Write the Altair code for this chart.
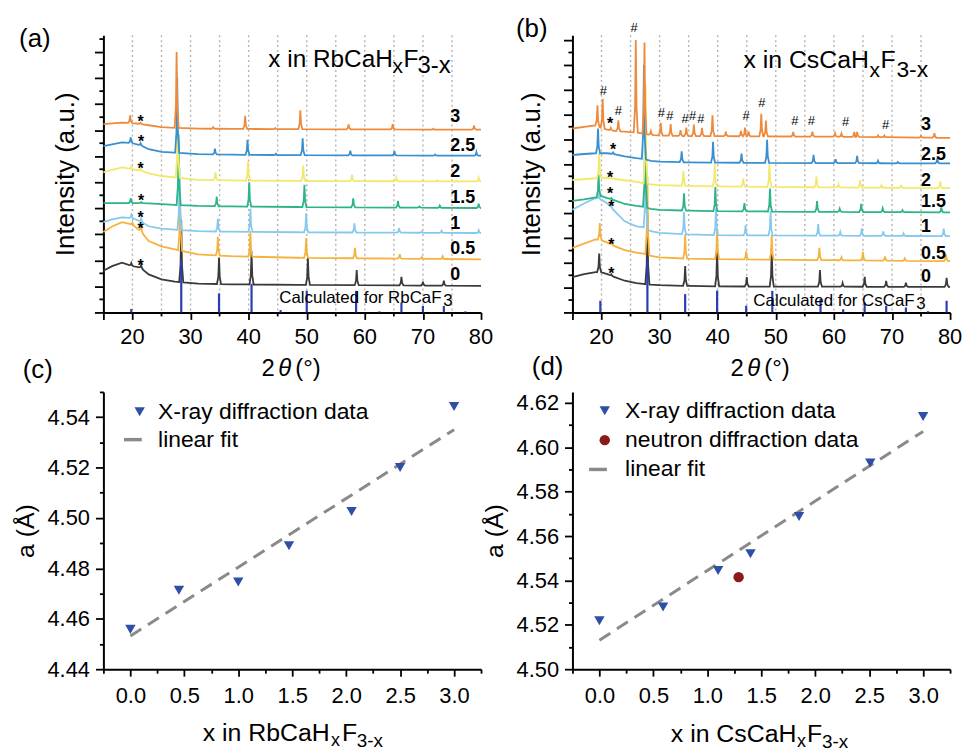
import altair as alt
import numpy as np
import pandas as pd

FONT = "Liberation Sans"
W, H = 380, 279

SERIES = ["0", "0.5", "1", "1.5", "2", "2.5", "3"]
COLORS = {"0": "#3a3a3a", "0.5": "#f5b23c", "1": "#86c9ee", "1.5": "#2bb38b",
          "2": "#f2e86a", "2.5": "#3a8fce", "3": "#ee8a3c"}
STICK_COLOR = "#2b3db0"
MARK_BLUE = "#2f4ea6"
NEUTRON_RED = "#8b1a1a"
FIT_GRAY = "#8a8a8a"

# ---------------- (a) x in RbCaHxF3-x : background knots (2theta, intensity) ----------------
A_BG_X = [15, 16.5, 18.2, 20, 21.4, 22.8, 25, 27.3, 31.3, 37, 48.4, 80]
A_BG_Y = {
    "0":   [1.60, 1.78, 1.91, 1.78, 1.72, 1.46, 1.27, 1.18, 1.11, 1.08, 1.06, 1.02],
    "0.5": [3.09, 3.30, 3.47, 3.37, 3.12, 2.74, 2.54, 2.42, 2.23, 2.16, 2.10, 2.04],
    "1":   [3.47, 3.57, 3.65, 3.62, 3.50, 3.31, 3.22, 3.18, 3.12, 3.10, 3.08, 3.05],
    "1.5": [4.20, 4.20, 4.20, 4.20, 4.20, 4.19, 4.16, 4.13, 4.09, 4.07, 4.05, 4.01],
    "2":   [5.38, 5.48, 5.57, 5.50, 5.45, 5.34, 5.24, 5.19, 5.09, 5.07, 5.05, 5.03],
    "2.5": [6.39, 6.46, 6.53, 6.50, 6.42, 6.27, 6.17, 6.14, 6.08, 6.06, 6.04, 6.02],
    "3":   [7.23, 7.26, 7.29, 7.27, 7.24, 7.19, 7.12, 7.09, 7.06, 7.05, 7.04, 7.02],
}
# peak positions (2theta) and heights above background
A_PK = {
    "0":   ([19.8, 21.5, 28.4, 34.9, 40.5, 50.2, 58.6, 66.3, 70.0, 73.6],
            [0.10, 0.12, 2.40, 1.02, 1.28, 1.05, 0.58, 0.33, 0.15, 0.19]),
    "0.5": ([20.0, 21.5, 28.2, 34.7, 40.3, 49.9, 58.3, 66.0, 69.8, 73.4],
            [0.08, 0.25, 2.20, 0.72, 0.98, 0.76, 0.40, 0.17, 0.07, 0.10]),
    "1":   ([19.8, 21.5, 28.1, 34.7, 40.3, 49.9, 58.2, 65.9, 69.8, 73.2, 79.6],
            [0.12, 0.12, 2.40, 0.50, 0.90, 0.73, 0.35, 0.17, 0.05, 0.08, 0.10]),
    "1.5": ([19.7, 21.5, 27.95, 34.5, 40.1, 49.6, 58.0, 65.7, 69.4, 72.9, 79.6],
            [0.19, 0.04, 2.70, 0.37, 0.93, 0.85, 0.34, 0.26, 0.05, 0.08, 0.17]),
    "2":   ([19.8, 21.4, 27.8, 34.3, 39.9, 49.4, 57.8, 65.4, 72.5, 79.6],
            [0.10, 0.08, 2.60, 0.30, 0.73, 0.60, 0.25, 0.14, 0.04, 0.14]),
    "2.5": ([19.7, 21.4, 27.7, 34.2, 39.8, 44.7, 49.3, 57.5, 65.1, 72.1, 79.2],
            [0.22, 0.08, 2.90, 0.22, 0.58, 0.05, 0.65, 0.18, 0.16, 0.04, 0.14]),
    "3":   ([19.6, 21.4, 27.6, 33.9, 39.4, 44.6, 48.9, 57.2, 64.8, 71.8, 78.8],
            [0.30, 0.05, 2.92, 0.06, 0.50, 0.04, 0.72, 0.19, 0.20, 0.03, 0.16]),
}
A_STICK_POS = [19.8, 28.4, 34.9, 40.5, 45.5, 50.0, 58.5, 62.5, 66.3, 70.0, 73.6, 77.3]
A_STICK_H = [0.13, 2.0, 0.73, 1.1, 0.09, 0.83, 0.83, 0.04, 0.38, 0.25, 0.25, 0.04]
A_STAR_X = [21.4, 21.4, 21.4, 21.5, 21.4, 21.5, 21.4]
A_STAR_Y = [1.93, 3.35, 3.79, 4.45, 5.66, 6.68, 7.48]
A_LABEL_X = [74.7] * 7
A_LABEL_Y = [1.45, 2.45, 3.40, 4.40, 5.40, 6.40, 7.50]

# ---------------- (b) x in CsCaHxF3-x ----------------
B_BG_X = [15, 17, 19, 20, 21, 22, 24, 26, 27.2, 28.5, 30, 35, 40, 60, 80]
B_BG_Y = {
    "0":   [1.43, 1.55, 1.63, 1.62, 1.55, 1.45, 1.28, 1.18, 1.15, 1.12, 1.10, 1.07, 1.05, 1.04, 1.03],
    "0.5": [2.61, 2.78, 2.95, 2.92, 2.82, 2.70, 2.52, 2.42, 2.38, 2.28, 2.22, 2.17, 2.15, 2.11, 2.07],
    "1":   [4.15, 4.40, 4.62, 4.55, 4.40, 4.15, 3.68, 3.48, 3.45, 3.28, 3.21, 3.15, 3.12, 3.10, 3.08],
    "1.5": [4.51, 4.57, 4.65, 4.70, 4.62, 4.55, 4.38, 4.30, 4.27, 4.18, 4.14, 4.11, 4.09, 4.06, 4.04],
    "2":   [5.35, 5.38, 5.42, 5.45, 5.42, 5.40, 5.34, 5.27, 5.22, 5.17, 5.14, 5.11, 5.09, 5.05, 5.02],
    "2.5": [6.36, 6.40, 6.43, 6.43, 6.43, 6.40, 6.30, 6.23, 6.20, 6.12, 6.09, 6.06, 6.05, 6.03, 6.02],
    "3":   [7.43, 7.50, 7.56, 7.45, 7.38, 7.34, 7.30, 7.27, 7.22, 7.17, 7.15, 7.12, 7.12, 7.10, 7.05],
}
B_PK = {
    "0":   ([19.6, 21.7, 27.9, 34.4, 39.9, 45.0, 49.3, 57.6, 61.5, 65.3, 69.0, 72.4, 79.4],
            [0.75, 0.06, 2.86, 0.80, 1.47, 0.38, 1.57, 0.67, 0.15, 0.40, 0.24, 0.17, 0.37]),
    "0.5": ([19.7, 21.7, 27.9, 34.4, 39.9, 44.9, 49.3, 57.5, 61.3, 65.0, 68.8, 72.2, 79.3],
            [0.68, 0.10, 3.15, 0.98, 1.25, 0.33, 1.00, 0.50, 0.12, 0.35, 0.17, 0.09, 0.27]),
    "1":   ([19.5, 21.7, 27.6, 34.2, 39.7, 44.8, 49.1, 57.3, 61.1, 64.8, 68.5, 72.0, 78.9],
            [0.15, 0.10, 3.07, 0.90, 1.08, 0.40, 0.98, 0.47, 0.15, 0.30, 0.18, 0.10, 0.30]),
    "1.5": ([19.5, 21.7, 27.5, 34.2, 39.6, 44.6, 49.0, 57.1, 61.0, 64.7, 68.4, 71.8, 78.5],
            [0.90, 0.05, 3.25, 0.70, 0.97, 0.33, 0.93, 0.43, 0.13, 0.33, 0.15, 0.08, 0.20]),
    "2":   ([19.6, 21.6, 27.6, 34.1, 39.5, 44.4, 48.9, 57.0, 60.8, 64.5, 68.2, 71.6, 78.3],
            [1.00, 0.05, 4.00, 0.60, 0.90, 0.33, 0.94, 0.43, 0.13, 0.30, 0.10, 0.08, 0.27]),
    "2.5": ([19.4, 22.0, 27.3, 33.8, 39.2, 44.1, 48.5, 56.5, 60.3, 64.0, 67.6, 71.0, 77.8],
            [1.00, 0.06, 3.80, 0.44, 0.84, 0.37, 0.93, 0.33, 0.16, 0.30, 0.10, 0.05, 0.20]),
    "3":   ([19.3, 20.2, 21.6, 22.9, 25.9, 27.4, 28.5, 30.2, 31.9, 33.6, 34.6, 35.9, 37.3, 39.1, 41.4,
             44.0, 44.7, 45.3, 47.5, 48.3, 53.0, 56.3, 60.2, 61.3, 63.5, 64.0, 67.6, 68.7, 75.0, 77.3],
            [0.84, 1.19, 0.10, 0.44, 3.73, 3.69, 0.15, 0.51, 0.47, 0.24, 0.34, 0.47, 0.34, 0.84, 0.18,
             0.22, 0.35, 0.20, 0.91, 0.64, 0.18, 0.20, 0.13, 0.13, 0.20, 0.20, 0.07, 0.07, 0.07, 0.18]),
}
B_STICK_POS = [19.8, 27.9, 34.4, 39.9, 44.9, 49.4, 57.7, 61.6, 65.3, 69.0, 72.4, 76.2, 79.4]
B_STICK_H = [0.47, 2.1, 0.74, 0.88, 0.27, 0.87, 0.54, 0.13, 0.40, 0.27, 0.20, 0.05, 0.47]
B_STAR_X = [21.7, 21.7, 21.7, 21.5, 21.5, 22.0, 21.5]
B_STAR_Y = [1.70, 2.88, 4.42, 4.95, 5.60, 6.73, 7.76]
B_HASH_X = [20.3, 22.9, 25.6, 30.3, 31.75, 34.4, 35.7, 37.1, 44.9, 47.6, 53.3, 56.1, 62.0, 68.9]
B_HASH_Y = [8.97, 8.17, 11.5, 8.10, 7.97, 7.83, 7.97, 7.83, 7.97, 8.50, 7.74, 7.74, 7.70, 7.60]
B_LABEL_X = [75.0] * 7
B_LABEL_Y = [1.41, 2.37, 3.44, 4.44, 5.29, 6.36, 7.59]

# axis tick values for the diffraction panels
XRD_MAJOR = [15, 20, 30, 40, 50, 60, 70, 80]
XRD_TICKLABELS = [20, 30, 40, 50, 60, 70, 80]
XRD_MINOR = [25, 35, 45, 55, 65, 75]
XRD_GRID = [20, 25, 30, 35, 40, 45, 50, 55, 60, 65, 70, 75]

# ---------------- (c) RbCaHxF3-x lattice parameter ----------------
C_X = [0.0, 0.45, 1.0, 1.47, 2.05, 2.5, 3.0]
C_A = [4.4558, 4.4713, 4.4746, 4.4890, 4.5026, 4.5200, 4.5442]
C_FIT_X = [0.0, 3.0]
C_FIT_A = [4.4532, 4.5350]

# ---------------- (d) CsCaHxF3-x lattice parameter ----------------
D_X = [0.0, 0.59, 1.1, 1.4, 1.85, 2.51, 3.0]
D_A = [4.5218, 4.5280, 4.5445, 4.5520, 4.5688, 4.5930, 4.6139]
D_NX = [1.29]
D_NA = [4.5415]
D_FIT_X = [0.0, 3.0]
D_FIT_A = [4.5131, 4.6072]

LEG_XRAY = "X-ray diffraction data"
LEG_NEUT = "neutron diffraction data"
LEG_FIT = "linear fit"
DASH_PATH = "M-3.0,-0.33L0.4,-0.33L0.4,0.33L-3.0,0.33Z"


def build_trace(bx, by, pos, hts):
    bx = np.asarray(bx, float)
    by = np.asarray(by, float)
    win = 0.35
    xs, ys = [], []
    for x0, y0 in zip(bx, by):
        if all(abs(x0 - p) > win for p in pos):
            xs.append(x0)
            ys.append(y0)
    for p, h in zip(pos, hts):
        for dx, f in ((-win, 0.0), (-0.12, 0.28), (0.0, 1.0), (0.12, 0.28), (win, 0.0)):
            x = p + dx
            xs.append(x)
            ys.append(float(np.interp(x, bx, by)) + f * h)
    order = np.argsort(xs)
    return pd.DataFrame({"t": np.array(xs)[order], "i": np.array(ys)[order]})


def txt(text, px, py, size, align="left", baseline="alphabetic", style="normal", weight="normal"):
    return alt.Chart(pd.DataFrame({"s": [text]})).mark_text(
        align=align, baseline=baseline, fontSize=size, font=FONT, fontStyle=style,
        fontWeight=weight, color="black"
    ).encode(x=alt.value(px), y=alt.value(py), text="s:N")


def xrd_panel(bg_x, bg_y, pk, st_pos, st_h, star_x, star_y, lab_x, lab_y, ymax,
              title_pieces, calc_pieces, panel_lab, hash_x=None, hash_y=None, ytitle_pad=8):
    xs = alt.Scale(domain=[15, 80], nice=False, zero=False)
    ys = alt.Scale(domain=[0, ymax], nice=False, zero=False)
    xaxis = alt.Axis(values=XRD_MAJOR, labels=False, tickSize=7, grid=False, title=None)
    ymaj = list(range(0, int(np.floor(ymax)) + 1))
    ymin = [k + 0.5 for k in ymaj if k + 0.5 <= ymax]
    yaxis = alt.Axis(
        values=ymaj, labels=False, tickSize=9, grid=False,
        title="Intensity (a.u.)", titleFontSize=26, titlePadding=ytitle_pad,
    )
    X = lambda: alt.X("t:Q", scale=xs, axis=xaxis)
    Y = lambda: alt.Y("i:Q", scale=ys, axis=yaxis)

    layers = []
    gdf = pd.DataFrame({"t": XRD_GRID})
    layers.append(alt.Chart(gdf).mark_rule(color="#b4b4b4", strokeWidth=1.4, strokeDash=[2, 3])
                  .encode(x=X(), y=alt.value(0), y2=alt.value(H)))
    mdf = pd.DataFrame({"t": XRD_MINOR})
    layers.append(alt.Chart(mdf).mark_rule(color="black", strokeWidth=1.8)
                  .encode(x=X(), y=alt.value(H), y2=alt.value(H + 4)))
    ydf = pd.DataFrame({"i": ymin})
    layers.append(alt.Chart(ydf).mark_rule(color="black", strokeWidth=1.8)
                  .encode(y=Y(), x=alt.value(0), x2=alt.value(-4)))
    tdf = pd.DataFrame({"t": XRD_TICKLABELS, "s": [str(v) for v in XRD_TICKLABELS]})
    layers.append(alt.Chart(tdf).mark_text(fontSize=22, font=FONT, color="black", baseline="middle")
                  .encode(x=X(), y=alt.value(H + 25), text="s:N"))
    for s in SERIES:
        df = build_trace(bg_x, bg_y[s], pk[s][0], pk[s][1])
        layers.append(alt.Chart(df).mark_line(color=COLORS[s], strokeWidth=1.8, interpolate="linear")
                      .encode(x=X(), y=Y(), order=alt.Order("t:Q")))
    sdf = pd.DataFrame({"t": st_pos, "i": [0.0] * len(st_pos), "h": st_h})
    layers.append(alt.Chart(sdf).mark_rule(color=STICK_COLOR, strokeWidth=2.2)
                  .encode(x=X(), y=Y(), y2="h:Q"))
    star_df = pd.DataFrame({"t": star_x, "i": star_y, "s": ["*"] * len(star_x)})
    layers.append(alt.Chart(star_df).mark_text(fontSize=16, fontWeight="bold", font=FONT, color="black",
                                               baseline="alphabetic", dy=9)
                  .encode(x=X(), y=Y(), text="s:N"))
    if hash_x is not None:
        hdf = pd.DataFrame({"t": hash_x, "i": hash_y, "s": ["#"] * len(hash_x)})
        layers.append(alt.Chart(hdf).mark_text(fontSize=13, font=FONT, color="black",
                                               baseline="alphabetic", dy=4.7)
                      .encode(x=X(), y=Y(), text="s:N"))
    ldf = pd.DataFrame({"t": lab_x, "i": lab_y, "s": SERIES})
    layers.append(alt.Chart(ldf).mark_text(fontSize=18, fontWeight="bold", font=FONT, color="black",
                                           align="left", baseline="middle")
                  .encode(x=X(), y=Y(), text="s:N"))
    for p in title_pieces + calc_pieces:
        layers.append(txt(*p))
    # x-axis title 2θ(°)
    layers.append(txt("2", 159, H + 64, 24))
    layers.append(txt("θ", 176, H + 64, 24, style="italic"))
    layers.append(txt("(°)", 193, H + 64, 24))
    layers.append(txt(panel_lab[0], panel_lab[1], panel_lab[2], 26, align="center", baseline="middle"))
    return alt.layer(*layers).properties(width=W, height=H)


def lattice_panel(px, pa, nx, na, fx, fa, ydom, yticks, title_pieces, panel_lab, legend_pos, domain_names):
    xs = alt.Scale(domain=[-0.25, 3.25], nice=False, zero=False)
    ys = alt.Scale(domain=ydom, nice=False, zero=False)
    xaxis = alt.Axis(
        values=[round(-0.25 + 0.25 * k, 2) for k in range(15)],
        labelExpr="round(datum.value*4) % 2 == 0 ? format(datum.value, '.1f') : ''",
        tickSize={"condition": {"test": "round(datum.value*4) % 2 == 0", "value": 7}, "value": 4},
        title=None, labelFontSize=22, labelPadding=10, labelFlush=False, labelOverlap=False, grid=False,
    )
    yaxis = alt.Axis(
        values=yticks,
        labelExpr="round(datum.value*100) % 2 == 0 ? format(datum.value, '.2f') : ''",
        tickSize={"condition": {"test": "round(datum.value*100) % 2 == 0", "value": 8}, "value": 4},
        title="a (Å)", titleFontSize=25, titlePadding=9, labelFontSize=22, labelPadding=6,
        labelFlush=False, labelOverlap=False, grid=False,
    )
    colors = {LEG_XRAY: MARK_BLUE, LEG_NEUT: NEUTRON_RED, LEG_FIT: FIT_GRAY}
    shapes = {LEG_XRAY: "triangle-down", LEG_NEUT: "circle", LEG_FIT: DASH_PATH}
    legend = alt.Legend(orient="none", legendX=legend_pos[0], legendY=legend_pos[1], title=None,
                        labelFontSize=23, labelFont=FONT, labelColor="black", symbolSize=110,
                        rowPadding=legend_pos[2], labelOffset=legend_pos[3], padding=0,
                        symbolStrokeWidth=0, symbolOpacity=1, labelLimit=500)
    cscale = alt.Scale(domain=domain_names, range=[colors[d] for d in domain_names])
    sscale = alt.Scale(domain=domain_names, range=[shapes[d] for d in domain_names])
    rows = [(x, a, LEG_XRAY) for x, a in zip(px, pa)] + [(x, a, LEG_NEUT) for x, a in zip(nx, na)]
    pdf = pd.DataFrame(rows, columns=["x", "a", "series"])
    fdf = pd.DataFrame({"x": fx, "a": fa})
    fit = alt.Chart(fdf).mark_line(color=FIT_GRAY, strokeWidth=3, strokeDash=[13, 8]).encode(
        x=alt.X("x:Q", scale=xs, axis=xaxis), y=alt.Y("a:Q", scale=ys, axis=yaxis))
    pts = alt.Chart(pdf).mark_point(filled=True, size=110, opacity=1).encode(
        x=alt.X("x:Q", scale=xs, axis=xaxis), y=alt.Y("a:Q", scale=ys, axis=yaxis),
        color=alt.Color("series:N", scale=cscale, legend=legend),
        shape=alt.Shape("series:N", scale=sscale, legend=legend))
    layers = [fit, pts]
    for p in title_pieces:
        layers.append(txt(*p))
    layers.append(txt(panel_lab[0], panel_lab[1], panel_lab[2], 26, align="center", baseline="middle"))
    return alt.layer(*layers).properties(width=W, height=H)


pa = xrd_panel(
    A_BG_X, A_BG_Y, A_PK, A_STICK_POS, A_STICK_H, A_STAR_X, A_STAR_Y, A_LABEL_X, A_LABEL_Y, 10.65,
    title_pieces=[("x in RbCaH", 166, 32, 24.5), ("x", 291, 38, 21), ("F", 302, 32, 24.5), ("3-x", 316, 38, 24)],
    calc_pieces=[("Calculated for RbCaF", 177, 270, 17), ("3", 342, 273, 17)],
    panel_lab=("(a)", -69, 3.5), ytitle_pad=15,
)
pb = xrd_panel(
    B_BG_X, B_BG_Y, B_PK, B_STICK_POS, B_STICK_H, B_STAR_X, B_STAR_Y, B_LABEL_X, B_LABEL_Y, 11.2,
    title_pieces=[("x in CsCaH", 172, 33, 25), ("x", 299, 42, 21), ("F", 310, 33, 25), ("3-x", 326, 42, 23)],
    calc_pieces=[("Calculated for CsCaF", 182, 273, 17), ("3", 346, 276, 17)],
    panel_lab=("(b)", -41, -6), hash_x=B_HASH_X, hash_y=B_HASH_Y, ytitle_pad=18,
)
pc = lattice_panel(
    C_X, C_A, [], [], C_FIT_X, C_FIT_A, [4.44, 4.55], [round(4.44 + 0.01 * k, 2) for k in range(12)],
    title_pieces=[("x in RbCaH", 100, H + 72, 25), ("x", 229, H + 77, 18), ("F", 240, H + 72, 25),
                  ("3-x", 255, H + 78, 19)],
    panel_lab=("(c)", -66, -22), legend_pos=(25, 8.5, 4, 7), domain_names=[LEG_XRAY, LEG_FIT],
)
pd_ = lattice_panel(
    D_X, D_A, D_NX, D_NA, D_FIT_X, D_FIT_A, [4.50, 4.625], [round(4.50 + 0.01 * k, 2) for k in range(13)],
    title_pieces=[("x in CsCaH", 99, H + 73, 25), ("x", 226, H + 78, 18), ("F", 236, H + 73, 25),
                  ("3-x", 251, H + 79, 19)],
    panel_lab=("(d)", -25, -25), legend_pos=(21, 7.5, 5.5, 9),
    domain_names=[LEG_XRAY, LEG_NEUT, LEG_FIT],
)

chart = alt.concat(pa, pb, pc, pd_, columns=2, spacing={"row": 80, "column": 92}, bounds="flush").resolve_scale(
    color="independent", shape="independent"
).resolve_legend(color="independent", shape="independent").properties(
    padding={"left": 5, "top": 6, "right": 0, "bottom": 0}
).configure_view(stroke=None).configure_axis(
    labelFont=FONT, titleFont=FONT, labelColor="black", titleColor="black", domainColor="black",
    tickColor="black", domainWidth=2, tickWidth=1.8, titleFontWeight="normal",
).configure_legend(labelFont=FONT)

chart.save("out.html", embed_options={"renderer": "svg", "actions": False})
